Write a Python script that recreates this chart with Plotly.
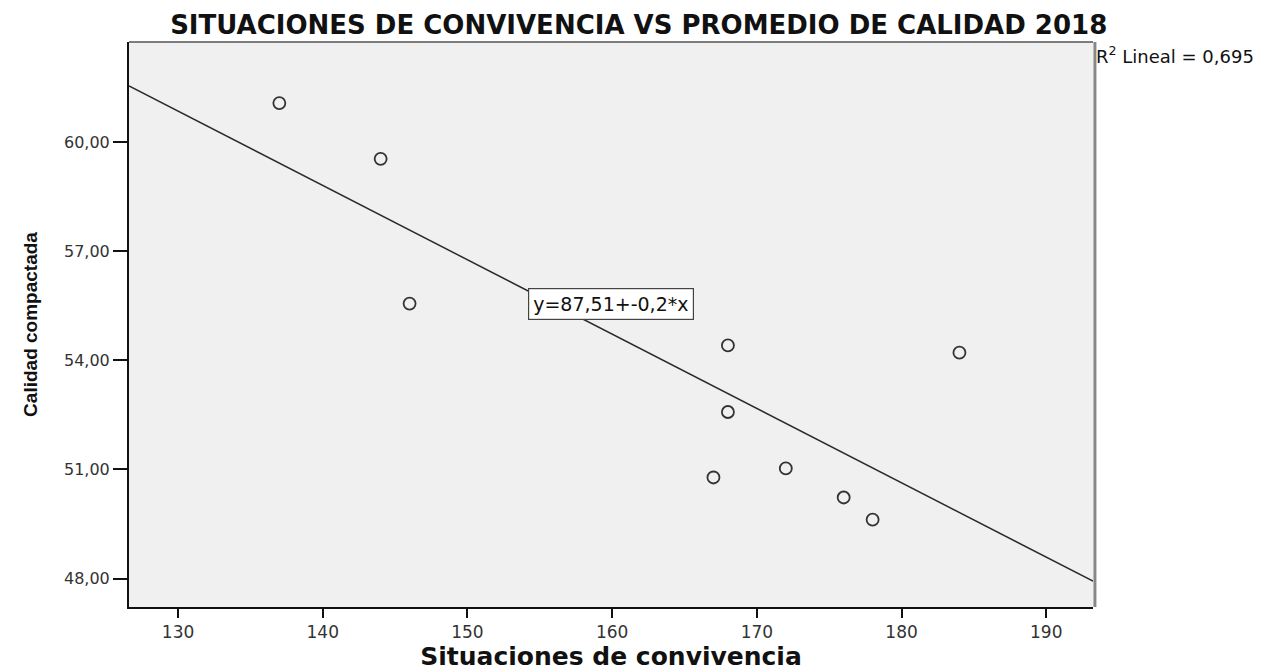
import numpy as np
import plotly.graph_objects as go

# Data
situaciones = [137, 144, 146, 167, 168, 168, 172, 176, 178, 184]
calidad = [61.07, 59.54, 55.56, 50.78, 54.41, 52.58, 51.03, 50.23, 49.62, 54.21]

x_ticks = [130, 140, 150, 160, 170, 180, 190]
y_ticks = [48, 51, 54, 57, 60]
y_ticktext = ["48,00", "51,00", "54,00", "57,00", "60,00"]

x_range = [126.61, 193.23]
y_range = [47.22, 62.75]

title_text = "SITUACIONES DE CONVIVENCIA VS PROMEDIO DE CALIDAD 2018"
x_title = "Situaciones de convivencia"
y_title = "Calidad compactada"
eq_label = "y=87,51+-0,2*x"
r2_label = "R<sup>2</sup> Lineal = 0,695"

# Linear fit from the points
slope, intercept = np.polyfit(situaciones, calidad, 1)
fit_x = np.array(x_range)
fit_y = intercept + slope * fit_x

fig = go.Figure()
fig.add_trace(go.Scatter(
    x=fit_x, y=fit_y, mode="lines",
    line=dict(color="#2a2a2a", width=1.5),
    hoverinfo="skip", showlegend=False,
))
fig.add_trace(go.Scatter(
    x=situaciones, y=calidad, mode="markers",
    marker=dict(symbol="circle-open", size=12, color="#333333",
                line=dict(width=1.8, color="#333333")),
    showlegend=False,
))

dv = "DejaVu Sans, Verdana, sans-serif"

fig.update_layout(
    width=1269, height=669,
    margin=dict(l=121, r=184, t=34, b=70),
    paper_bgcolor="white",
    plot_bgcolor="#f0f0f0",
    title=dict(
        text=title_text,
        font=dict(family=dv, size=26, color="#111111", weight="bold"),
        x=0.497, xanchor="center", y=0.975, yanchor="middle",
    ),
    xaxis=dict(
        range=x_range, tickvals=x_ticks,
        ticks="outside", ticklen=9, tickwidth=1.5, tickcolor="#111111",
        showline=True, linecolor="#111111", linewidth=2,
        showgrid=False, zeroline=False,
        tickfont=dict(family=dv, size=17, color="#333333"),
        title=dict(text=x_title, standoff=1,
                   font=dict(family=dv, size=25, color="#111111", weight="bold")),
    ),
    yaxis=dict(
        range=y_range, tickvals=y_ticks, ticktext=y_ticktext,
        ticks="outside", ticklen=14, tickwidth=1.5, tickcolor="#111111",
        showline=True, linecolor="#111111", linewidth=2,
        showgrid=False, zeroline=False,
        tickfont=dict(family=dv, size=16, color="#333333"),
        title=dict(text=y_title, standoff=21,
                   font=dict(family="Liberation Sans Narrow, Arial Narrow, Liberation Sans, sans-serif",
                             size=19, color="#111111", weight="bold")),
    ),
    shapes=[
        dict(type="line", xref="paper", yref="paper", x0=0, x1=1, y0=1, y1=1,
             line=dict(color="#555555", width=1.5)),
        dict(type="line", xref="paper", yref="paper", x0=1.002, x1=1.002, y0=0, y1=1,
             line=dict(color="#888888", width=3)),
    ],
    annotations=[
        dict(text=eq_label, xref="paper", yref="paper", x=0.5, y=0.5354,
             xanchor="center", yanchor="middle", showarrow=False,
             font=dict(family=dv, size=19, color="#111111"),
             bgcolor="white", bordercolor="#444444", borderwidth=1.2, borderpad=4),
        dict(text=r2_label, xref="paper", yref="paper", x=1.0, y=0.977,
             xanchor="left", yanchor="middle", xshift=1, showarrow=False,
             font=dict(family=dv, size=18, color="#111111")),
    ],
)

fig.write_html("out.html")
